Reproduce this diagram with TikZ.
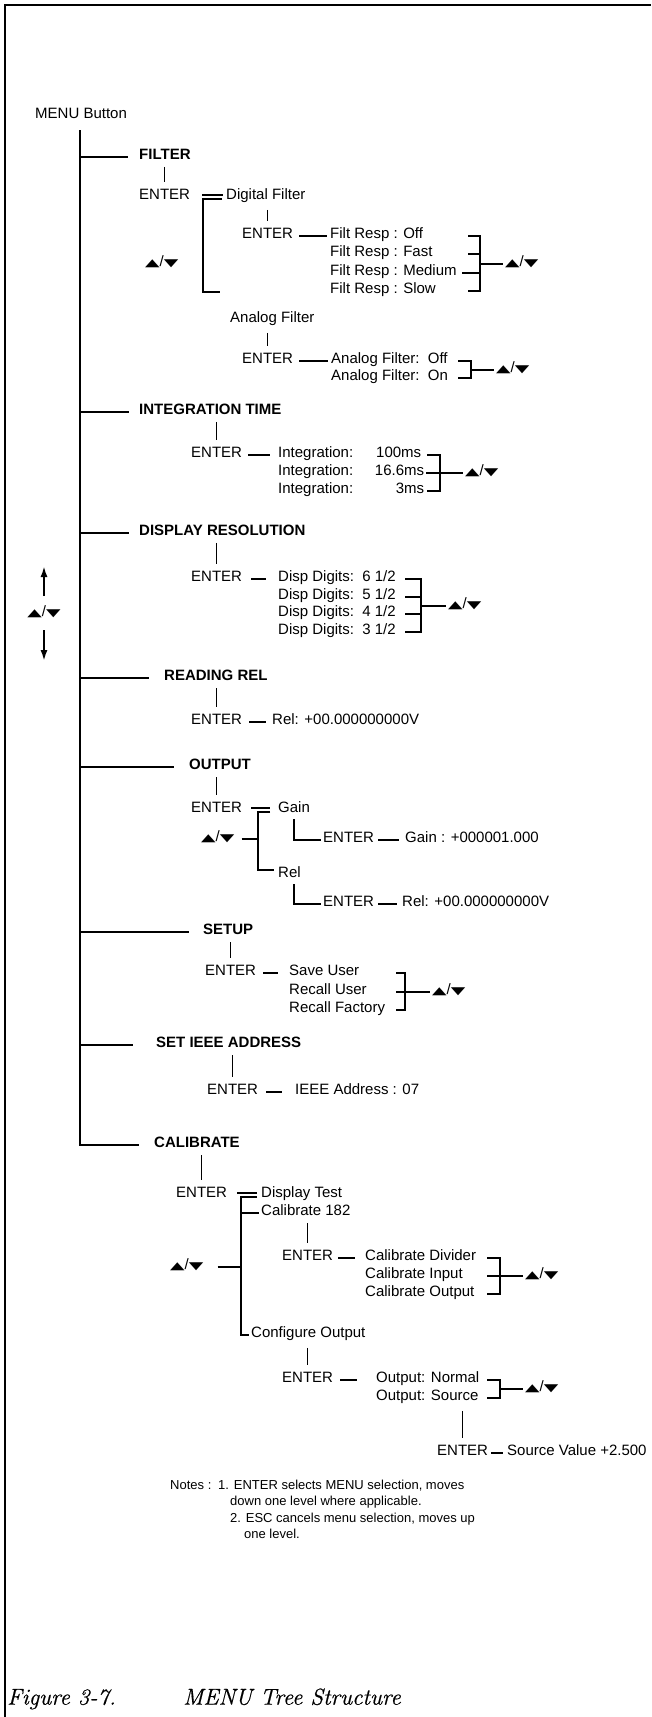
\documentclass[tikz,border=0pt]{standalone}
\usepackage{fontspec}
\setmainfont{Liberation Sans}
\newfontfamily\symf[FakeStretch=1.8]{DejaVu Sans}
\newfontfamily\capf[FakeBold=0.6]{Latin Modern Roman}
\usetikzlibrary{arrows.meta}
\newcommand\ud{{\symf\fontsize{10.5}{11}\selectfont ▲}/{\symf\fontsize{10.5}{11}\selectfont ▼}}
\begin{document}
\begin{tikzpicture}[x=1pt,y=-1pt,
  lbl/.style={inner sep=2pt, anchor=mid west, font=\fontsize{15}{18}\selectfont},
  hd/.style={lbl, font=\fontsize{15}{18}\selectfont\bfseries},
  nt/.style={inner sep=2pt, anchor=mid west, font=\fontsize{13}{16}\selectfont},
  ln/.style={line width=1.2pt},
  tick/.style={line width=1.2pt, shorten >=5pt, shorten <=5pt},
  arr/.style={line width=2pt, -{Latex[length=11pt,width=7pt]}}]
\useasboundingbox (0,0) rectangle (651,1717);
% frame
\draw[line width=1.5pt] (5,1717) -- (5,5) -- (651,5);
% root
\node[lbl] (menu) at (33,116) {MENU Button};
\coordinate (trunk) at (80,130);
\node[hd] (cal) at (152,1145) {CALIBRATE};
\draw[ln] (trunk) -- (trunk |- cal.mid) -- ([xshift=-13pt]cal.mid west);
% left arrows
\node[lbl, anchor=center] (mud) at (44,612) {\ud};
\draw[arr] (44,596) -- (44,566);
\draw[arr] (44,630) -- (44,661);
% ================= FILTER
\node[hd] (filt) at (137,157) {FILTER};
\draw[ln] (trunk |- filt.mid) -- ([xshift=-9pt]filt.mid west);
\node[lbl] (fen) at (137,197) {ENTER};
\draw[tick] (filt.south) -- (filt.south |- fen.north);
\node[lbl] (dig) at (224,197) {Digital Filter};
\draw[ln, shorten <=10pt, shorten >=1pt] ([yshift=2pt]fen.mid east) -- ([yshift=2pt]dig.mid west);
\draw[ln] (222,199) -- (203,199) -- (203,292) -- (220,292);
\node[lbl] (fud) at (143,264) {\ud};
\node[lbl] (den) at (240,236) {ENTER};
\draw[tick] (den.north |- dig.south) -- (den.north);
\node[lbl] (fr1) at (328,236) {Filt Resp : Off};
\node[lbl] (fr2) at (328,254) {Filt Resp : Fast};
\node[lbl] (fr3) at (328,273) {Filt Resp : Medium};
\node[lbl] (fr4) at (328,291) {Filt Resp : Slow};
\draw[ln, shorten <=4pt, shorten >=1pt] (den.mid east) -- (fr1.mid west);
\draw[ln] (468,236) -- (480,236) -- (480,291) -- (468,291);
\draw[ln] (468,254) -- (480,254);
\draw[ln] (462,273) -- (480,273);
\node[lbl] (frud) at (503,264) {\ud};
\draw[ln] (480,264) -- (frud.mid west);
\node[lbl] (ana) at (228,320) {Analog Filter};
\node[lbl] (aen) at (240,361) {ENTER};
\draw[tick] (aen.north |- ana.south) -- (aen.north);
\node[lbl] (af1) at (329,361) {Analog Filter:\ \ Off};
\node[lbl] (af2) at (329,378) {Analog Filter:\ \ On};
\draw[ln, shorten <=4pt, shorten >=1pt] (aen.mid east) -- (af1.mid west);
\draw[ln] (458,361) -- (471,361) -- (471,378) -- (458,378);
\node[lbl] (afud) at (494,370) {\ud};
\draw[ln] (471,370) -- (afud.mid west);
% ================= INTEGRATION TIME
\node[hd] (itm) at (137,412) {INTEGRATION TIME};
\draw[ln] (trunk |- itm.mid) -- ([xshift=-8pt]itm.mid west);
\node[lbl] (ien) at (189,455) {ENTER};
\draw[tick] (ien.north |- itm.south) -- (ien.north);
\node[lbl] (it1) at (276,455) {\hbox to 143pt{Integration:\hfill 100ms}};
\node[lbl] (it2) at (276,473) {\hbox to 146pt{Integration:\hfill 16.6ms}};
\node[lbl] (it3) at (276,491) {\hbox to 146pt{Integration:\hfill 3ms}};
\draw[ln, shorten <=4pt, shorten >=6pt] (ien.mid east) -- (it1.mid west);
\draw[ln] (427,455) -- (440,455) -- (440,491) -- (427,491);
\node[lbl] (itud) at (463,473) {\ud};
\draw[ln] (426,473) -- (itud.mid west);
% ================= DISPLAY RESOLUTION
\node[hd] (dres) at (137,533) {DISPLAY RESOLUTION};
\draw[ln] (trunk |- dres.mid) -- ([xshift=-8pt]dres.mid west);
\node[lbl] (den2) at (189,579) {ENTER};
\draw[tick] (den2.north |- dres.south) -- (den2.north);
\node[lbl] (dd1) at (276,579) {Disp Digits:\ \ 6 1/2};
\node[lbl] (dd2) at (276,597) {Disp Digits:\ \ 5 1/2};
\node[lbl] (dd3) at (276,614) {Disp Digits:\ \ 4 1/2};
\node[lbl] (dd4) at (276,632) {Disp Digits:\ \ 3 1/2};
\draw[ln, shorten <=7pt, shorten >=10pt] (den2.mid east) -- (dd1.mid west);
\draw[ln] (405,579) -- (421,579) -- (421,632) -- (405,632);
\draw[ln] (405,597) -- (421,597);
\draw[ln] (405,614) -- (421,614);
\node[lbl] (ddud) at (446,606) {\ud};
\draw[ln] (421,606) -- (ddud.mid west);
% ================= READING REL
\node[hd] (rrel) at (162,678) {READING REL};
\draw[ln] (trunk |- rrel.mid) -- ([xshift=-13pt]rrel.mid west);
\node[lbl] (ren) at (189,722) {ENTER};
\draw[tick] (ren.north |- rrel.south) -- (ren.north);
\node[lbl] (rval) at (270,722) {Rel: +00.000000000V};
\draw[ln, shorten <=5pt, shorten >=4pt] (ren.mid east) -- (rval.mid west);
% ================= OUTPUT
\node[hd] (outp) at (187,767) {OUTPUT};
\draw[ln] (trunk |- outp.mid) -- ([xshift=-13pt]outp.mid west);
\node[lbl] (oen) at (189,810) {ENTER};
\draw[tick] (oen.north |- outp.south) -- (oen.north);
\node[lbl] (gain) at (276,810) {Gain};
\draw[ln, shorten <=7pt, shorten >=6pt] ([yshift=2pt]oen.mid east) -- ([yshift=2pt]gain.mid west);
\draw[ln] (270,812) -- (258,812) -- (258,870) -- (274,870);
\node[lbl] (orel) at (276,875) {Rel};
\node[lbl] (oud) at (199,839) {\ud};
\draw[ln, shorten <=5pt] (oud.mid east) -- (258,839);
\node[lbl] (gen) at (321,840) {ENTER};
\draw[ln, shorten <=4pt] (gain.south) |- (gen.mid west);
\node[lbl] (gval) at (403,840) {Gain : +000001.000};
\draw[ln, shorten <=2pt, shorten >=4pt] (gen.mid east) -- (gval.mid west);
\node[lbl] (ren2) at (321,904) {ENTER};
\draw[ln, shorten <=4pt] (gain.south |- orel.south) |- (ren2.mid west);
\node[lbl] (rval2) at (400,904) {Rel: +00.000000000V};
\draw[ln, shorten <=2pt, shorten >=3pt] (ren2.mid east) -- (rval2.mid west);
% ================= SETUP
\node[hd] (setup) at (201,932) {SETUP};
\draw[ln] (trunk |- setup.mid) -- ([xshift=-12pt]setup.mid west);
\node[lbl] (sen) at (203,973) {ENTER};
\draw[tick] (sen.north |- setup.south) -- (sen.north);
\node[lbl] (su1) at (287,973) {Save User};
\node[lbl] (su2) at (287,992) {Recall User};
\node[lbl] (su3) at (287,1010) {Recall Factory};
\draw[ln, shorten <=5pt, shorten >=9pt] (sen.mid east) -- (su1.mid west);
\draw[ln] (396,973) -- (405,973) -- (405,1010) -- (396,1010);
\node[lbl] (suud) at (430,992) {\ud};
\draw[ln] (396,992) -- (suud.mid west);
% ================= SET IEEE ADDRESS
\node[hd] (ieee) at (154,1045) {SET IEEE ADDRESS};
\draw[ln] (trunk |- ieee.mid) -- ([xshift=-21pt]ieee.mid west);
\node[lbl] (ien2) at (205,1092) {ENTER};
\draw[tick] (ien2.north |- ieee.south) -- (ien2.north);
\node[lbl] (ival) at (293,1092) {IEEE Address : 07};
\draw[ln, shorten <=6pt, shorten >=11pt] (ien2.mid east) -- (ival.mid west);
% ================= CALIBRATE
\node[lbl] (cen) at (174,1195) {ENTER};
\draw[tick] (cen.north |- cal.south) -- (cen.north);
\node[lbl] (dtest) at (259,1195) {Display Test};
\draw[ln, shorten <=8pt, shorten >=2pt] ([yshift=2pt]cen.mid east) -- ([yshift=2pt]dtest.mid west);
\node[lbl] (c182) at (259,1213) {Calibrate 182};
\node[lbl] (cfo) at (249,1335) {Configure Output};
\draw[ln] (257,1197) -- (241,1197) -- (241,1335) -- (cfo.mid west);
\draw[ln] (241,1213) -- (c182.mid west);
\node[lbl] (cud) at (168,1267) {\ud};
\draw[ln, shorten <=12pt] (cud.mid east) -- (241,1267);
\node[lbl] (c2en) at (280,1258) {ENTER};
\draw[tick] (c2en.north |- c182.south) -- (c2en.north);
\node[lbl] (cd) at (363,1258) {Calibrate Divider};
\node[lbl] (ci) at (363,1276) {Calibrate Input};
\node[lbl] (co) at (363,1294) {Calibrate Output};
\draw[ln, shorten <=3pt, shorten >=8pt] (c2en.mid east) -- (cd.mid west);
\draw[ln] (487,1258) -- (500,1258) -- (500,1294) -- (487,1294);
\node[lbl] (ciud) at (523,1276) {\ud};
\draw[ln] (487,1276) -- (ciud.mid west);
\node[lbl] (coen) at (280,1380) {ENTER};
\draw[tick] (coen.north |- cfo.south) -- (coen.north);
\node[lbl] (onor) at (374,1380) {Output: Normal};
\node[lbl] (osrc) at (374,1398) {Output: Source};
\draw[ln, shorten <=5pt, shorten >=17pt] (coen.mid east) -- (onor.mid west);
\draw[ln] (487,1380) -- (500,1380) -- (500,1398) -- (487,1398);
\node[lbl] (oud2) at (523,1389) {\ud};
\draw[ln] (500,1389) -- (oud2.mid west);
\node[lbl] (sven) at (435,1453) {ENTER};
\draw[tick] (sven.north |- osrc.south) -- (sven.north);
\node[lbl] (sval) at (505,1453) {Source Value +2.500};
\draw[ln, shorten <=1pt, shorten >=2pt] (sven.mid east) -- (sval.mid west);
% ================= Notes
\node[nt] (notes) at (168,1487) {Notes :};
\node[nt] (n1) at (216,1487) {1. ENTER selects MENU selection, moves};
\node[nt] (n1b) at (228,1503) {down one level where applicable.};
\node[nt] (n2) at (228,1520) {2. ESC cancels menu selection, moves up};
\node[nt] (n2b) at (242,1536) {one level.};
% ================= caption
\node[inner sep=0pt, anchor=mid west, font=\capf\itshape\fontsize{23}{27}\selectfont] (fig) at (7,1702) {Figure 3-7.};
\node[inner sep=0pt, anchor=mid west, font=\capf\itshape\fontsize{23}{27}\selectfont] (figt) at (183,1702) {MENU Tree Structure};
\end{tikzpicture}
\end{document}
